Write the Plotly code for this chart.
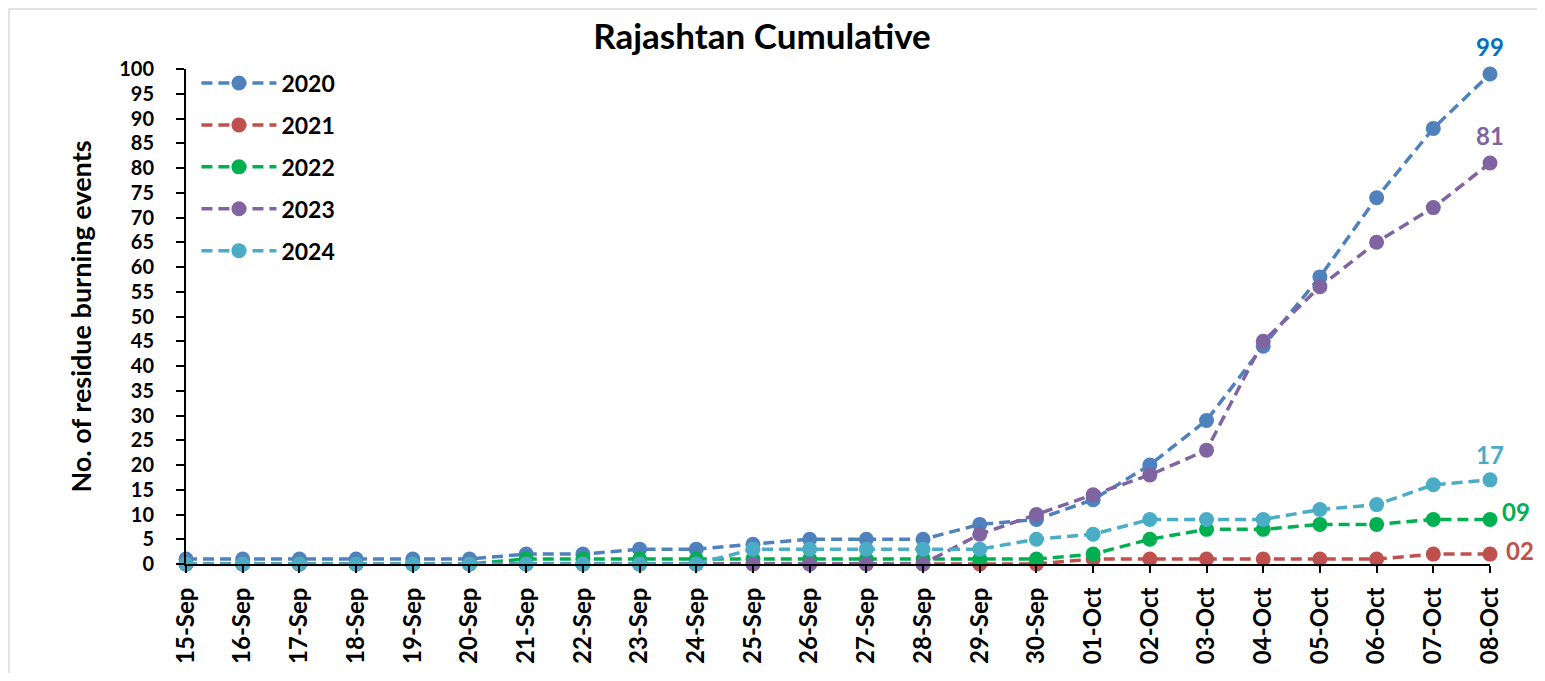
import plotly.graph_objects as go

dates = ["15-Sep", "16-Sep", "17-Sep", "18-Sep", "19-Sep", "20-Sep", "21-Sep", "22-Sep",
         "23-Sep", "24-Sep", "25-Sep", "26-Sep", "27-Sep", "28-Sep", "29-Sep", "30-Sep",
         "01-Oct", "02-Oct", "03-Oct", "04-Oct", "05-Oct", "06-Oct", "07-Oct", "08-Oct"]

y2020 = [1, 1, 1, 1, 1, 1, 2, 2, 3, 3, 4, 5, 5, 5, 8, 9, 13, 20, 29, 44, 58, 74, 88, 99]
y2021 = [0, 0, 0, 0, 0, 0, 0, 0, 0, 0, 0, 0, 0, 0, 0, 0, 1, 1, 1, 1, 1, 1, 2, 2]
y2022 = [0, 0, 0, 0, 0, 0, 1, 1, 1, 1, 1, 1, 1, 1, 1, 1, 2, 5, 7, 7, 8, 8, 9, 9]
y2023 = [0, 0, 0, 0, 0, 0, 0, 0, 0, 0, 0, 0, 0, 0, 6, 10, 14, 18, 23, 45, 56, 65, 72, 81]
y2024 = [0, 0, 0, 0, 0, 0, 0, 0, 0, 0, 3, 3, 3, 3, 3, 5, 6, 9, 9, 9, 11, 12, 16, 17]

series_names = ["2020", "2021", "2022", "2023", "2024"]
series_values = [y2020, y2021, y2022, y2023, y2024]
colors = ["#4F81BD", "#C0504D", "#00B050", "#8064A2", "#4BACC6"]
label_colors = ["#0070C0", "#C0504D", "#00B050", "#8064A2", "#4BACC6"]
end_labels = ["99", "02", "09", "81", "17"]

FONT = "Lato"
OFF = 8  # page body margin offset
W, H = 1545 - 2 * OFF, 681 - 2 * OFF

fig = go.Figure()
xs = list(range(len(dates)))
for name, vals, col in zip(series_names, series_values, colors):
    fig.add_trace(go.Scatter(
        x=xs, y=vals, name="<b>%s</b>" % name, mode="lines+markers",
        line=dict(color=col, width=3.5, dash="11px,6px"),
        marker=dict(color=col, size=15),
        legendgroup=name, cliponaxis=False,
    ))

# end labels
label_pos = {
    "2020": dict(xanchor="center", yanchor="bottom", xshift=0, yshift=11),
    "2023": dict(xanchor="center", yanchor="bottom", xshift=0, yshift=11),
    "2024": dict(xanchor="center", yanchor="bottom", xshift=0, yshift=9),
    "2022": dict(xanchor="left", yanchor="middle", xshift=10, yshift=8),
    "2021": dict(xanchor="left", yanchor="middle", xshift=14, yshift=4),
}
for name, vals, lc, lab in zip(series_names, series_values, label_colors, end_labels):
    p = label_pos[name]
    fig.add_annotation(x=xs[-1], y=vals[-1], text="<b>%s</b>" % lab, showarrow=False,
                       font=dict(family=FONT, size=24, color=lc),
                       xanchor=p["xanchor"], yanchor=p["yanchor"],
                       xshift=p["xshift"], yshift=p["yshift"])

# chart border (Excel chart area)
fig.add_shape(type="rect", xref="paper", yref="paper",
              x0=(9 - 186) / 1304, x1=(1600 - 186) / 1304,
              y0=(564 - 720) / 495, y1=(564 - 9) / 495,
              line=dict(color="#D9D9D9", width=1.5), layer="below")

fig.update_layout(
    width=W, height=H,
    margin=dict(l=186 - OFF, r=W + OFF - 1490, t=69 - OFF, b=H + OFF - 564),
    paper_bgcolor="white", plot_bgcolor="white",
    title=dict(text="<b>Rajashtan Cumulative</b>", x=(762 - OFF) / W, xanchor="center",
               y=1 - (37 - OFF) / H, yanchor="middle", xref="container", yref="container",
               font=dict(family=FONT, size=35, color="black")),
    font=dict(family=FONT, color="black"),
    legend=dict(x=0.008, y=1.015, xanchor="left", yanchor="top",
                font=dict(family=FONT, size=23, color="black"),
                bgcolor="rgba(0,0,0,0)", tracegroupgap=9, itemwidth=75),
    showlegend=True,
)
fig.update_xaxes(
    range=[0, len(dates) - 1], tickmode="array", tickvals=xs,
    ticktext=["<b>%s</b>" % d for d in dates], tickangle=-90,
    tickfont=dict(family=FONT, size=24, color="black"),
    showline=True, linecolor="black", linewidth=2,
    ticks="outside", ticklen=7, tickwidth=2, tickcolor="black",
    ticklabelstandoff=5, automargin=False,
    showgrid=False, zeroline=False,
)
fig.update_yaxes(
    range=[0, 100], tickmode="linear", tick0=0, dtick=5,
    tickprefix="<b>", ticksuffix="</b>",
    tickfont=dict(family=FONT, size=20, color="black"),
    showline=True, linecolor="black", linewidth=2,
    ticks="outside", ticklen=8, tickwidth=2, tickcolor="black",
    ticklabelstandoff=18, automargin=False,
    showgrid=False, zeroline=False,
    title=dict(text="<b>No. of residue burning events</b>",
               font=dict(family=FONT, size=27, color="black"), standoff=20),
)

fig.write_html("out.html")
